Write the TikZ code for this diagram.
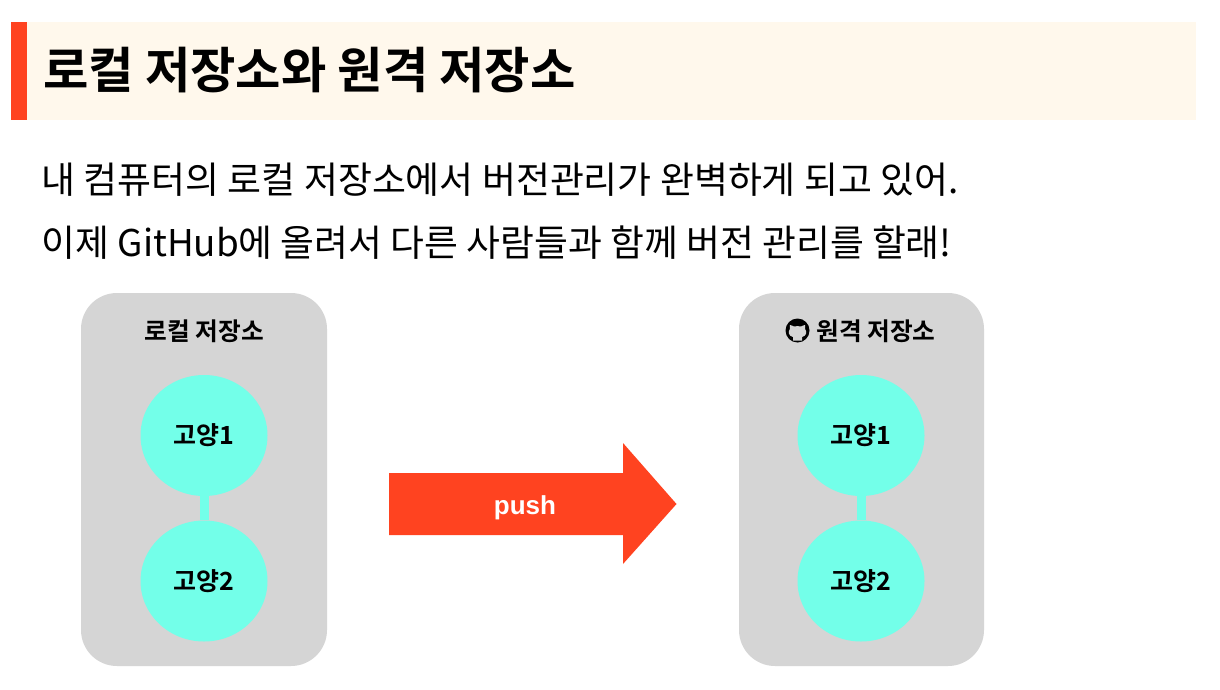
\documentclass[tikz,border=0pt]{standalone}
\usepackage{fontspec}
\setmainfont{Noto Sans CJK KR}
\newfontfamily\kr{Noto Sans CJK KR}
\newfontfamily\krb{Noto Sans CJK KR Bold}
\newfontfamily\lat{Liberation Sans}
\usetikzlibrary{shapes.geometric}
\definecolor{bar}{HTML}{FF4320}
\definecolor{band}{HTML}{FFF8EC}
\definecolor{pane}{HTML}{D5D5D5}
\definecolor{mint}{HTML}{73FFE9}
\tikzset{x=1pt,y=-1pt,
 panebox/.style={fill=pane,rounded corners=36pt,draw=none},
 cat/.style={ellipse,fill=mint,minimum width=127pt,minimum height=121pt,inner sep=0,font=\krb\fontsize{25}{29}\selectfont},
 paneltitle/.style={anchor=center,font=\krb\fontsize{24.7}{29}\selectfont},
 link/.style={mint,line width=9pt},
 bodytext/.style={anchor=west,inner sep=0,font=\kr\fontsize{36.9}{44}\selectfont}}
\begin{document}
\begin{tikzpicture}
\useasboundingbox (0,0) rectangle (1220,690);
\fill[white] (0,0) rectangle (1220,690);
\fill[band] (27,22) rectangle (1196,120);
\fill[bar] (11,22) rectangle (27,120);
\node[anchor=west,inner sep=0,font=\krb\fontsize{49.3}{56}\selectfont] (title) at (43,70) {로컬 저장소와 원격 저장소};
\node[bodytext] (l1) at (41.5,180) {내 컴퓨터의 로컬 저장소에서 버전관리가 완벽하게 되고 있어.};
\node[bodytext,font=\kr\fontsize{36.8}{44}\selectfont] (l2) at (41.5,243) {이제 GitHub에 올려서 다른 사람들과 함께 버전 관리를 할래!};
\fill[panebox] (81,293) rectangle (327,666);
\fill[panebox] (739,293) rectangle (984,666);
\node[paneltitle] (lt) at (204.5,331) {로컬 저장소};
\node[paneltitle] (rt) at (876,331) {원격 저장소};
\fill[black] (797.5,330.5) circle (12);
\fill[pane] (793,340.5) -- (793,337) .. controls (788,336) and (788,331) .. (790,329) .. controls (789.5,327) and (790,325.5) .. (790,325) .. controls (792,325.5) and (793,326) .. (794,326.5) .. controls (796,326) and (799,326) .. (801,326.5) .. controls (802,326) and (803,325.5) .. (805,325) .. controls (805,325.5) and (805.5,327) .. (805,329) .. controls (807,331) and (807,336) .. (802,337) -- (802,340.5) -- cycle;
\node[cat] (c1) at (204,435.5) {고양1};
\node[cat] (c2) at (204,581) {고양2};
\node[cat] (c3) at (861,435.5) {고양1};
\node[cat] (c4) at (861,581) {고양2};
\draw[link] (c1) -- (c2);
\draw[link] (c3) -- (c4);
\fill[bar] (389,473) -- (623,473) -- (623,443) -- (676.5,504) -- (623,564) -- (623,535) -- (389,535) -- cycle;
\node[font=\lat\bfseries\fontsize{26}{30}\selectfont,white] (p) at (525,507.5) {push};
\end{tikzpicture}
\end{document}
